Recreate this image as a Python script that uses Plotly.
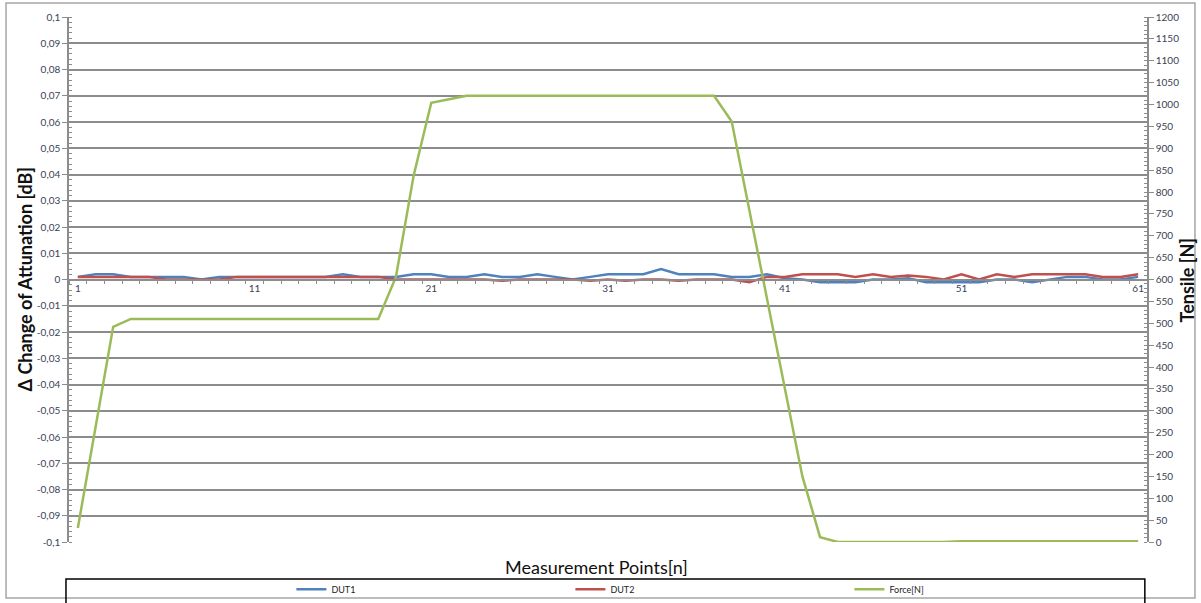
import plotly.graph_objects as go

# ── data ──
POINTS = list(range(1, 62))

DUT1 = [
    0.001, 0.002, 0.002, 0.001, 0.001, 0.001, 0.001, 0.0, 0.001, 0.001,
    0.001, 0.001, 0.001, 0.001, 0.001, 0.002, 0.001, 0.001, 0.001, 0.002,
    0.002, 0.001, 0.001, 0.002, 0.001, 0.001, 0.002, 0.001, 0.0, 0.001,
    0.002, 0.002, 0.002, 0.004, 0.002, 0.002, 0.002, 0.001, 0.001, 0.002,
    0.0005, 0.0, -0.001, -0.001, -0.001, 0.0, 0.0, 0.0005, -0.001, -0.001,
    -0.001, -0.001, 0.0, 0.0, -0.001, 0.0, 0.001, 0.001, 0.0, 0.0,
    0.001,
]

DUT2 = [
    0.001, 0.001, 0.001, 0.001, 0.001, 0.0, 0.0, 0.0, 0.0, 0.001,
    0.001, 0.001, 0.001, 0.001, 0.001, 0.001, 0.001, 0.001, 0.0, 0.0,
    0.0, 0.0, 0.0, 0.0, -0.0005, 0.0, 0.0, 0.0, 0.0, -0.0005,
    0.0, -0.0005, 0.0, 0.0, -0.0005, 0.0, 0.0, 0.0, -0.001, 0.001,
    0.001, 0.002, 0.002, 0.002, 0.001, 0.002, 0.001, 0.0015, 0.001, 0.0,
    0.002, 0.0, 0.002, 0.001, 0.002, 0.002, 0.002, 0.002, 0.001, 0.001,
    0.002,
]

FORCE = [
    32, 262, 492, 510, 510, 510, 510, 510, 510, 510,
    510, 510, 510, 510, 510, 510, 510, 510, 606, 837,
    1004, 1012, 1020, 1020, 1020, 1020, 1020, 1020, 1020, 1020,
    1020, 1020, 1020, 1020, 1020, 1020, 1020, 961, 759, 560,
    359, 150, 11, 0, 0, 0, 0, 0, 0, 0,
    2, 2, 2, 2, 2, 2, 2, 2, 2, 2,
    2,
]

LEFT_TICKS = [-0.1, -0.09, -0.08, -0.07, -0.06, -0.05, -0.04, -0.03, -0.02, -0.01,
              0, 0.01, 0.02, 0.03, 0.04, 0.05, 0.06, 0.07, 0.08, 0.09, 0.1]
LEFT_LABELS = ["-0,1", "-0,09", "-0,08", "-0,07", "-0,06", "-0,05", "-0,04", "-0,03",
               "-0,02", "-0,01", "0", "0,01", "0,02", "0,03", "0,04", "0,05", "0,06",
               "0,07", "0,08", "0,09", "0,1"]
X_TICKS = [1, 11, 21, 31, 41, 51, 61]

BLUE = "#4f81bd"
RED = "#c0504d"
GREEN = "#9bbb59"
GRID = "#8c8c8c"
TICKFONT = dict(family="Lato, Arial", size=10, color="#3a4256")
TITLEFONT = dict(family="Lato, Arial", size=18, color="#111")

fig = go.Figure()
fig.add_trace(go.Scatter(x=POINTS, y=DUT1, mode="lines", name="DUT1",
                         line=dict(color=BLUE, width=2.5)))
fig.add_trace(go.Scatter(x=POINTS, y=DUT2, mode="lines", name="DUT2",
                         line=dict(color=RED, width=2.5)))
fig.add_trace(go.Scatter(x=POINTS, y=FORCE, mode="lines", name="Force[N]",
                         line=dict(color=GREEN, width=2.5), yaxis="y2"))

fig.update_layout(
    width=1201, height=603,
    margin=dict(l=69, r=54, t=17, b=61, autoexpand=False),
    paper_bgcolor="white", plot_bgcolor="white",
    showlegend=True,
    legend=dict(
        orientation="h", x=0.2063, xanchor="left", y=-0.09, yanchor="middle",
        font=dict(family="Lato, Arial", size=9, color="#222"),
        entrywidth=234, entrywidthmode="pixels",
        bgcolor="rgba(0,0,0,0)",
    ),
    xaxis=dict(
        range=[0.5, 61.5], anchor="free", position=0.5,
        showgrid=False, zeroline=False,
        showline=True, linecolor=GRID, linewidth=1.5,
        tickmode="array", tickvals=X_TICKS, ticks="", ticklen=0,
        tickfont=TICKFONT,
        minor=dict(tick0=0.5, dtick=1, ticks="outside", ticklen=4,
                   tickcolor=GRID, showgrid=False),
    ),
    yaxis=dict(
        range=[-0.1, 0.1],
        tickmode="array", tickvals=LEFT_TICKS, ticktext=LEFT_LABELS,
        showgrid=True, gridcolor=GRID, gridwidth=1.5, zeroline=False,
        showline=True, linecolor=GRID, linewidth=1.5,
        ticks="outside", ticklen=5, tickcolor=GRID,
        tickfont=TICKFONT,
        minor=dict(dtick=0.002, ticks="inside", ticklen=3, tickcolor=GRID,
                   showgrid=False),
    ),
    yaxis2=dict(
        range=[0, 1200], overlaying="y", side="right",
        tick0=0, dtick=50,
        showgrid=False, zeroline=False,
        showline=True, linecolor=GRID, linewidth=1.5,
        ticks="outside", ticklen=5, tickcolor=GRID,
        tickfont=TICKFONT,
        minor=dict(dtick=10, ticks="inside", ticklen=3, tickcolor=GRID,
                   showgrid=False),
    ),
    annotations=[
        dict(text="<b>Δ Change of Attunation [dB]</b>", textangle=-90,
             xref="paper", yref="paper", x=-0.0417, y=0.5,
             xanchor="center", yanchor="middle",
             showarrow=False, font=TITLEFONT),
        dict(text="<b>Tensile [N]</b>", textangle=-90,
             xref="paper", yref="paper", x=1.0371, y=0.5,
             xanchor="center", yanchor="middle",
             showarrow=False, font=TITLEFONT),
        dict(text="Measurement Points[n]",
             xref="paper", yref="paper", x=0.489, y=-0.048,
             xanchor="center", yanchor="middle",
             showarrow=False, font=TITLEFONT),
    ],
    shapes=[
        # outer chart border
        dict(type="rect", xref="paper", yref="paper",
             x0=-0.0584, x1=1.0445, y0=-0.1067, y1=1.0267,
             line=dict(color="#a6a6a6", width=1.5), layer="below"),
        # legend box
        dict(type="rect", xref="paper", yref="paper",
             x0=-0.0028, x1=0.998, y0=-0.14, y1=-0.0705,
             line=dict(color="black", width=1.5), layer="below"),
    ],
)

# page body has an 8px default margin; drop it so the figure sits at 0,0
fig.write_html("out.html", config={"displayModeBar": False},
               post_script="document.body.style.margin='0px';")
